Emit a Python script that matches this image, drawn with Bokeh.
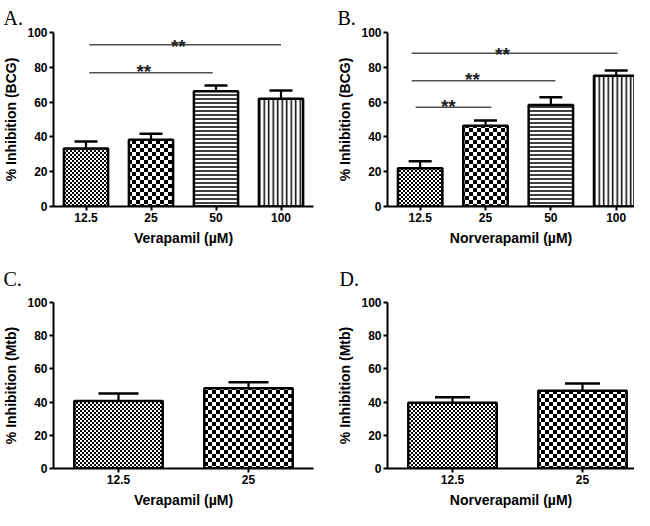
import zlib, struct, base64
from bokeh.plotting import figure
from bokeh.models import (ColumnDataSource, Range1d, FixedTicker,
                          Whisker, TeeHead, ImageURLTexture)
from bokeh.layouts import gridplot
from bokeh.embed import file_html
from bokeh.resources import INLINE
from bokeh.core.properties import value

# ---------------- data ----------------
conc_ab = ["12.5", "25", "50", "100"]
conc_cd = ["12.5", "25"]

a_vals = [33.3, 38.3, 66.3, 61.9]
a_errs = [4.1, 3.5, 3.2, 4.8]
b_vals = [22.0, 46.4, 58.4, 75.1]
b_errs = [4.0, 3.0, 4.4, 3.1]
c_vals = [40.6, 48.3]
c_errs = [4.6, 3.6]
d_vals = [39.6, 46.9]
d_errs = [3.3, 4.3]

# significance brackets (x in category-index units, 1 = first category)
a_x0 = [1.05, 1.05]
a_x1 = [4.0, 2.95]
a_level = [93.0, 76.8]
a_star_x = [2.42, 1.89]
a_star_y = [94.3, 80.0]
b_x0 = [0.87, 0.87, 0.93]
b_x1 = [4.02, 3.07, 2.09]
b_level = [88.1, 72.2, 57.1]
b_star_x = [2.26, 1.80, 1.43]
b_star_y = [89.4, 75.3, 59.8]
sig_label = "**"

y_ticks = [0, 20, 40, 60, 80, 100]

FONT = "Liberation Sans"


def png_url(cell):
    n = 2 * cell
    rows = [[((i // cell) + (j // cell)) % 2 == 0 for j in range(n)] for i in range(n)]
    raw = b"".join(b"\x00" + bytes(0 if v else 255 for v in r) for r in rows)

    def chunk(t, d):
        c = struct.pack(">I", len(d)) + t + d
        return c + struct.pack(">I", zlib.crc32(t + d) & 0xffffffff)
    data = (b"\x89PNG\r\n\x1a\n" + chunk(b"IHDR", struct.pack(">IIBBBBB", n, n, 8, 0, 0, 0, 0))
            + chunk(b"IDAT", zlib.compress(raw)) + chunk(b"IEND", b""))
    return "data:image/png;base64," + base64.b64encode(data).decode()


FINE_URL = png_url(2)
COARSE_URL = png_url(4)

patterns_ab = ["fine", "coarse", "horizontal_line", "vertical_line"]
scales_ab = [4, 8, 4, 4.5]
patterns_cd = ["fine", "coarse"]
scales_cd = [4, 8]


def make_panel(cats, vals, errs, pats, scales, xlabel, ylabel, x_end,
               w, h, bl, br, bt, bb, cap, letter, letter_off, letter_standoff,
               width_frac=0.68, bx0=None, bx1=None, blev=None, sx=None, sy=None):
    pos = list(range(1, len(cats) + 1))
    p = figure(x_range=Range1d(0.5, x_end), y_range=Range1d(0, 100),
               width=w, height=h, output_backend="svg", toolbar_location=None,
               min_border_left=bl, min_border_right=br, min_border_top=bt, min_border_bottom=bb)
    p.outline_line_color = None
    p.grid.visible = False

    tops = [v + e for v, e in zip(vals, errs)]
    src = ColumnDataSource(dict(x=pos, top=vals, etop=tops, pat=pats, sc=scales))
    textures = {"fine": ImageURLTexture(url=FINE_URL), "coarse": ImageURLTexture(url=COARSE_URL)}
    p.vbar(x="x", top="top", width=width_frac, source=src, fill_color="white",
           line_color="black", line_width=2.5, hatch_pattern="pat", hatch_scale="sc",
           hatch_weight=1.5, hatch_color="black", hatch_extra=textures)
    p.add_layout(Whisker(base="x", lower="top", upper="etop", source=src, line_width=2.2,
                         line_color="black", lower_head=None,
                         upper_head=TeeHead(size=cap, line_width=2.5, line_color="black")))

    if bx0 is not None:
        bsrc = ColumnDataSource(dict(x0=bx0, x1=bx1, y=blev, sx=sx, sy=sy,
                                     lab=[sig_label] * len(blev)))
        p.segment(x0="x0", y0="y", x1="x1", y1="y", source=bsrc,
                  line_color="#505050", line_width=1.5)
        p.text(x="sx", y="sy", text="lab", source=bsrc, text_font=value(FONT),
               text_font_size="19px", text_font_style="bold", text_color="#222222",
               text_align="center", text_baseline="middle", y_offset=4)

    for ax in (p.xaxis[0], p.yaxis[0]):
        ax.axis_line_width = 2
        ax.axis_line_color = "black"
        ax.major_tick_line_width = 2
        ax.major_tick_line_color = "black"
        ax.major_tick_out = 4
        ax.major_tick_in = 0
        ax.minor_tick_out = 0
        ax.minor_tick_in = 0
        ax.major_label_text_font = FONT
        ax.major_label_text_font_style = "bold"
        ax.major_label_text_font_size = "12px"
        ax.major_label_text_color = "black"
        ax.major_label_standoff = 2
        ax.axis_label_text_font = FONT
        ax.axis_label_text_font_style = "bold"
        ax.axis_label_text_font_size = "14px"
        ax.axis_label_text_color = "black"
        ax.axis_label_standoff = 5
    p.yaxis.ticker = FixedTicker(ticks=y_ticks)
    p.xaxis.ticker = FixedTicker(ticks=pos)
    p.xaxis.major_label_overrides = {k: c for k, c in zip(pos, cats)}
    p.xaxis.axis_label = xlabel
    p.yaxis.axis_label = ylabel

    p.title.text = letter
    p.title.text_font = "Liberation Serif"
    p.title.text_font_size = "20px"
    p.title.text_font_style = "normal"
    p.title.text_color = "black"
    p.title.align = "left"
    p.title.offset = letter_off
    p.title.standoff = letter_standoff
    return p


pA = make_panel(conc_ab, a_vals, a_errs, patterns_ab, scales_ab,
                "Verapamil (\u00b5M)", "% Inhibition (BCG)", 4.5,
                317, 250, 51, 2, 32, 44, 23, "A.", -50, 8,
                bx0=a_x0, bx1=a_x1, blev=a_level, sx=a_star_x, sy=a_star_y)
pB = make_panel(conc_ab, b_vals, b_errs, patterns_ab, scales_ab,
                "Norverapamil (\u00b5M)", "% Inhibition (BCG)", 4.28,
                317, 250, 70, 0, 32, 44, 23, "B.", -50, 8,
                bx0=b_x0, bx1=b_x1, blev=b_level, sx=b_star_x, sy=b_star_y)
pC = make_panel(conc_cd, c_vals, c_errs, patterns_cd, scales_cd,
                "Verapamil (\u00b5M)", "% Inhibition (Mtb)", 2.5,
                317, 260, 51, 4, 52, 42, 40, "C.", -50, 25)
pD = make_panel(conc_cd, d_vals, d_errs, patterns_cd, scales_cd,
                "Norverapamil (\u00b5M)", "% Inhibition (Mtb)", 2.4,
                317, 260, 68, 0, 52, 42, 35, "D.", -48, 25)

grid = gridplot([[pA, pB], [pC, pD]], toolbar_location=None)

open("out.html", "w").write(file_html(grid, INLINE))
